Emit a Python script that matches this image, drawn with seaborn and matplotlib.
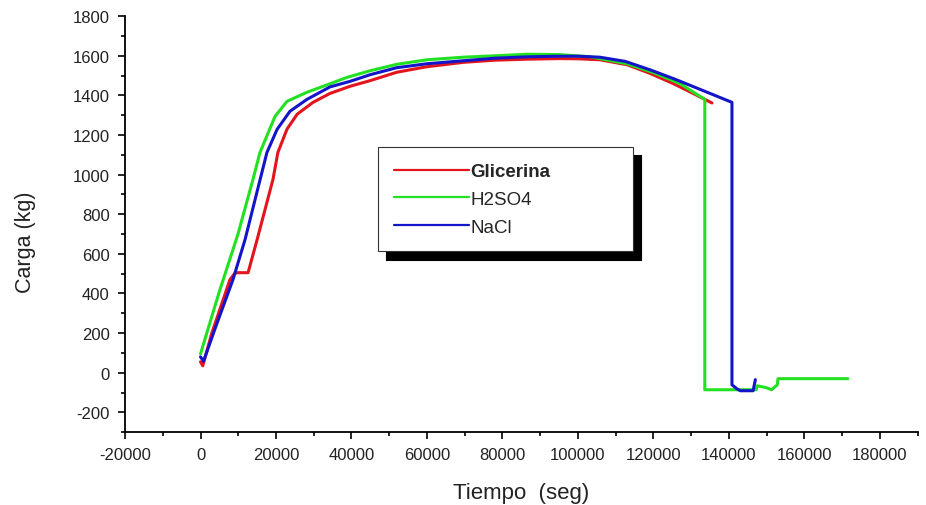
import pandas as pd
import matplotlib.pyplot as plt
import seaborn as sns
from matplotlib.ticker import MultipleLocator

# Carga vs tiempo for three ensayos
glicerina_t = [0, 600, 3000, 7800, 9000, 9700, 12600, 15000, 19200, 20500, 22900, 25600,
               29800, 34300, 39600, 45000, 52000, 60000, 69600, 78000, 86500, 95000,
               100000, 105800, 113000, 119000, 125000, 130000, 135500]
glicerina_carga = [55, 35, 200, 470, 500, 505, 505, 672, 976, 1112, 1229, 1305,
                   1365, 1410, 1446, 1475, 1517, 1545, 1567, 1578, 1583, 1586,
                   1585, 1580, 1555, 1512, 1462, 1415, 1362]

h2so4_t = [0, 5000, 9930, 13900, 15760, 19740, 22900, 28200, 32500, 38800, 45000, 52000,
           60000, 69600, 78000, 86500, 95000, 103000, 113000, 120000, 127000, 133600,
           133600, 147200, 147500, 150000, 151300, 152800, 153000, 171500]
h2so4_carga = [95, 410, 700, 976, 1112, 1294, 1370, 1416, 1446, 1491, 1525, 1557,
               1580, 1593, 1600, 1608, 1606, 1596, 1560, 1515, 1460, 1380,
               -86, -86, -66, -76, -86, -61, -30, -30]

nacl_t = [0, 800, 4000, 8600, 11800, 15800, 17600, 20300, 23700, 28200, 34300, 39600,
          45000, 52000, 60000, 69600, 78000, 86500, 95000, 100000, 105800, 112500,
          119000, 125700, 132300, 140800, 140800, 142100, 143000, 146400, 147000]
nacl_carga = [80, 58, 230, 470, 672, 976, 1112, 1229, 1320, 1380, 1443, 1471,
              1505, 1540, 1560, 1575, 1588, 1595, 1598, 1598, 1593, 1572,
              1530, 1482, 1431, 1365, -61, -81, -91, -91, -35]

series = ["Glicerina", "H2SO4", "NaCl"]
colors = ["#e3141c", "#22e022", "#1414c8"]

df = pd.concat([
    pd.DataFrame({"Tiempo": glicerina_t, "Carga": glicerina_carga, "Ensayo": "Glicerina"}),
    pd.DataFrame({"Tiempo": h2so4_t, "Carga": h2so4_carga, "Ensayo": "H2SO4"}),
    pd.DataFrame({"Tiempo": nacl_t, "Carga": nacl_carga, "Ensayo": "NaCl"}),
], ignore_index=True)

sns.set_style("ticks")
plt.rcParams["font.family"] = ["Liberation Sans", "DejaVu Sans"]
plt.rcParams["axes.unicode_minus"] = False

fig = plt.figure(figsize=(9.26, 5.06), dpi=100)
ax = fig.add_axes([0.135, 0.144, 0.856, 0.822])

sns.lineplot(data=df, x="Tiempo", y="Carga", hue="Ensayo", hue_order=series,
             palette=colors, sort=False, estimator=None, linewidth=2.2, ax=ax)

ax.set_xlim(-20000, 190000)
ax.set_ylim(-300, 1800)
ax.xaxis.set_major_locator(MultipleLocator(20000))
ax.xaxis.set_minor_locator(MultipleLocator(10000))
ax.yaxis.set_major_locator(MultipleLocator(200))
ax.yaxis.set_minor_locator(MultipleLocator(100))
ax.tick_params(which="major", direction="out", length=5, width=1.2, labelsize=12,
               colors="black", labelcolor="#222222", pad=6)
ax.tick_params(which="minor", direction="out", length=3, width=1.2, colors="black")
sns.despine(ax=ax)
for s in ["left", "bottom"]:
    ax.spines[s].set_linewidth(1.3)
    ax.spines[s].set_color("black")

ax.set_xlabel("Tiempo  (seg)", fontsize=16, color="#222222", labelpad=14)
ax.set_ylabel("Carga (kg)", fontsize=15.5, color="#222222")
ax.yaxis.set_label_coords(-0.112, 0.46)

leg = ax.legend(loc="upper left", bbox_to_anchor=(0.319, 0.445, 0.322, 0.24),
                mode="expand", fontsize=13.5, frameon=True, fancybox=False,
                framealpha=1, edgecolor="#333333", borderpad=0.85, labelspacing=0.56,
                handlelength=4.0, handletextpad=0.1, borderaxespad=0,
                shadow={"ox": 5.8, "oy": -5.8, "color": "black", "alpha": 1})
leg.get_frame().set_linewidth(0.8)
for line in leg.get_lines():
    line.set_linewidth(1.6)
leg.get_texts()[0].set_fontweight("bold")

fig.savefig("out.png", dpi=100)
